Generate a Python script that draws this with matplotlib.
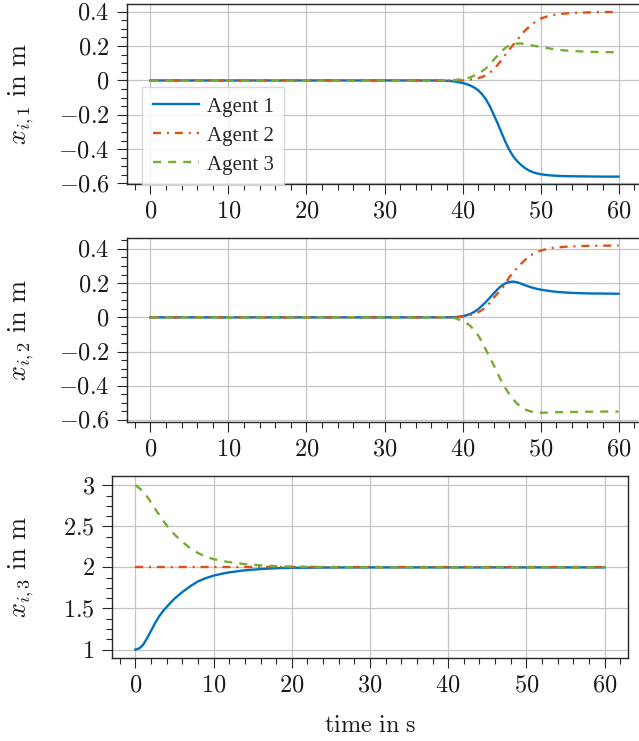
import matplotlib
matplotlib.use("Agg")
import matplotlib.pyplot as plt
from matplotlib.ticker import MultipleLocator
from matplotlib.transforms import blended_transform_factory

# Werte
t_12 = [0, 30, 36, 37, 38, 39,
        40, 40.5, 41, 41.5, 42, 42.5, 43, 43.5, 44, 44.5, 45, 45.5, 46, 46.5, 47, 47.5,
        48, 48.5, 49, 49.5, 50,
        51, 52, 53, 54, 56, 58, 60]

x1_agent1 = [0, 0, 0, -0.001, -0.002, -0.006,
             -0.015, -0.021, -0.03, -0.041, -0.057, -0.08, -0.11, -0.15, -0.2, -0.25, -0.305, -0.358,
             -0.405, -0.442, -0.47, -0.492, -0.51, -0.524, -0.534, -0.541, -0.546,
             -0.552, -0.555, -0.557, -0.558, -0.559, -0.56, -0.56]
x1_agent2 = [0, 0, 0, 0, 0, 0,
             0, 0.002, 0.005, 0.008, 0.013, 0.02, 0.03, 0.045, 0.065, 0.09, 0.12, 0.15,
             0.18, 0.208, 0.235, 0.263, 0.29, 0.311, 0.33, 0.347, 0.36,
             0.375, 0.384, 0.389, 0.392, 0.396, 0.398, 0.399]
x1_agent3 = [0, 0, 0, 0, 0, 0.002,
             0.008, 0.012, 0.018, 0.028, 0.04, 0.054, 0.07, 0.093, 0.12, 0.145, 0.17, 0.19,
             0.205, 0.212, 0.215, 0.215, 0.212, 0.208, 0.203, 0.199, 0.195,
             0.187, 0.18, 0.175, 0.172, 0.167, 0.165, 0.164]

x2_agent1 = [0, 0, 0, 0, 0, 0.001,
             0.006, 0.012, 0.02, 0.032, 0.048, 0.068, 0.09, 0.115, 0.14, 0.165, 0.185, 0.199,
             0.207, 0.209, 0.205, 0.197, 0.188, 0.18, 0.173, 0.167, 0.162,
             0.155, 0.149, 0.146, 0.143, 0.14, 0.139, 0.138]
x2_agent2 = [0, 0, 0, 0, 0, 0,
             0.004, 0.008, 0.014, 0.021, 0.03, 0.043, 0.06, 0.085, 0.115, 0.14, 0.165, 0.2,
             0.235, 0.263, 0.29, 0.313, 0.335, 0.354, 0.37, 0.381, 0.39,
             0.402, 0.409, 0.412, 0.415, 0.418, 0.419, 0.42]
x2_agent3 = [0, 0, 0, 0, 0, -0.004,
             -0.02, -0.033, -0.05, -0.075, -0.105, -0.145, -0.19, -0.235, -0.28, -0.328, -0.375, -0.415,
             -0.45, -0.48, -0.505, -0.523, -0.538, -0.547, -0.553, -0.556, -0.558,
             -0.557, -0.555, -0.554, -0.553, -0.552, -0.551, -0.551]

t_3 = [0, 0.5, 1, 1.5, 2, 2.5, 3, 3.5, 4, 5, 6, 7, 8, 9, 10, 11, 12, 14, 16, 18, 20, 25, 30, 40, 50, 60]
x3_agent1 = [1, 1.015, 1.06, 1.14, 1.23, 1.32, 1.40, 1.465, 1.52, 1.62, 1.70, 1.77, 1.83, 1.87,
             1.90, 1.922, 1.94, 1.965, 1.98, 1.99, 1.995, 1.999, 2, 2, 2, 2]
x3_agent2 = [2, 2, 2, 2, 2, 2, 2, 2, 2, 2, 2, 2, 2, 2, 2, 2, 2, 2, 2, 2, 2, 2, 2, 2, 2, 2]
x3_agent3 = [3, 2.965, 2.92, 2.86, 2.79, 2.715, 2.645, 2.575, 2.51, 2.40, 2.31, 2.235, 2.175, 2.13,
             2.10, 2.08, 2.065, 2.04, 2.025, 2.015, 2.01, 2.003, 2, 2, 2, 2]

agent_names = ["Agent 1", "Agent 2", "Agent 3"]
x_ticks = [0, 10, 20, 30, 40, 50, 60]
y12_ticks = [-0.6, -0.4, -0.2, 0, 0.2, 0.4]
y3_ticks = [1, 1.5, 2, 2.5, 3]

farben = ["#0072BD", "#D95319", "#77AC30"]
stile = ["-", (0, (3.4, 2.5, 0.85, 2.5)), (0, (3.4, 3.0))]

plt.rcParams["mathtext.fontset"] = "cm"
plt.rcParams["font.family"] = ["Liberation Serif", "DejaVu Serif"]

fig = plt.figure(figsize=(6.39, 7.41), dpi=100)
W, H = 639.0, 741.0

# Achsenpositionen in Pixel (links, rechts, oben, unten)
boxen = [(127, 642, 4, 184), (127, 642, 238, 422), (112, 628, 476, 658)]
achsen = []
for l, r, o, u in boxen:
    achsen.append(fig.add_axes([l / W, 1 - u / H, (r - l) / W, (u - o) / H]))

daten = [
    (t_12, [x1_agent1, x1_agent2, x1_agent3], (-0.603, 0.445), y12_ticks, 0.05, r"$x_{i,1}\ \mathrm{in\ m}$"),
    (t_12, [x2_agent1, x2_agent2, x2_agent3], (-0.612, 0.464), y12_ticks, 0.05, r"$x_{i,2}\ \mathrm{in\ m}$"),
    (t_3, [x3_agent1, x3_agent2, x3_agent3], (0.897, 3.113), y3_ticks, 0.125, r"$x_{i,3}\ \mathrm{in\ m}$"),
]

def fmt(v):
    return "$" + f"{v:g}" + "$"

for ax, (t, serien, ylim, yt, ymin, ylab) in zip(achsen, daten):
    for y, c, ls, name in zip(serien, farben, stile, agent_names):
        ax.plot(t, y, color=c, linestyle=ls, lw=1.7, label=name)
    ax.set_xlim(-3, 63)
    ax.set_ylim(*ylim)
    ax.set_xticks(x_ticks)
    ax.set_xticklabels([fmt(v) for v in x_ticks])
    ax.set_yticks(yt)
    ax.set_yticklabels([fmt(v) for v in yt])
    ax.xaxis.set_minor_locator(MultipleLocator(2))
    ax.yaxis.set_minor_locator(MultipleLocator(ymin))
    ax.grid(True, which="major", color="#c4c4c4", lw=0.9)
    ax.set_axisbelow(True)
    for sp in ax.spines.values():
        sp.set_color("#262626")
        sp.set_linewidth(1.0)
    ax.tick_params(which="both", direction="out", color="#262626", width=0.8,
                   labelsize=17.5, labelcolor="#1a1a1a", pad=5)
    ax.tick_params(which="major", length=7.5)
    ax.tick_params(which="minor", length=4.5)
    ax.set_ylabel(ylab, fontsize=19, color="#1a1a1a")
    ax.yaxis.label.set_transform(blended_transform_factory(fig.transFigure, ax.transAxes))
    ax.yaxis.label.set_position((36 / W, 0.5))
    ax.yaxis.set_label_coords(36 / W, 0.5, transform=blended_transform_factory(fig.transFigure, ax.transAxes))

achsen[2].set_xlabel(r"$\mathrm{time\ in\ s}$", fontsize=17.5, color="#1a1a1a", labelpad=14)

leg = achsen[0].legend(loc="upper left", bbox_to_anchor=(0.03, 0.541), fontsize=15,
                       handlelength=2.2, handletextpad=0.4, labelspacing=0.45,
                       borderpad=0.5, fancybox=False, framealpha=0.8,
                       edgecolor="#d0d0d0", borderaxespad=0)
leg.get_frame().set_linewidth(1.0)
for txt in leg.get_texts():
    txt.set_color("#262626")

fig.savefig("out.png", dpi=100)
